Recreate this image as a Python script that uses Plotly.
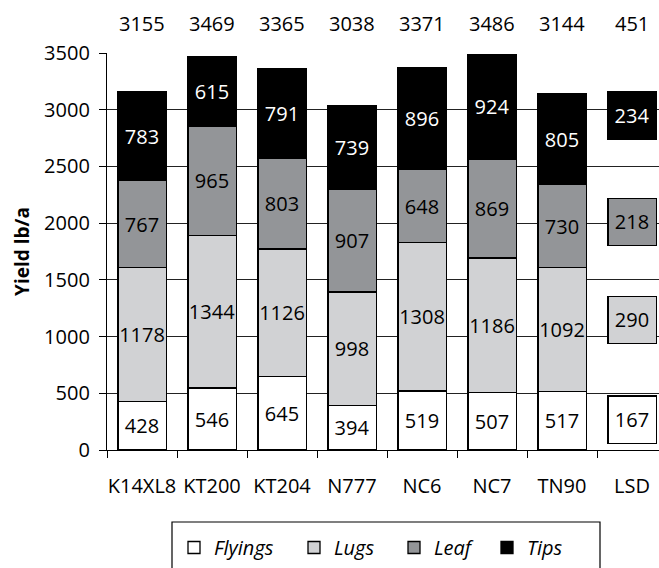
import plotly.graph_objects as go

categories = ["K14XL8", "KT200", "KT204", "N777", "NC6", "NC7", "TN90"]
flyings = [428, 546, 645, 394, 519, 507, 517]
lugs = [1178, 1344, 1126, 998, 1308, 1186, 1092]
leaf = [767, 965, 803, 907, 648, 869, 730]
tips = [783, 615, 791, 739, 896, 924, 805]
totals = [3155, 3469, 3365, 3038, 3371, 3486, 3144]

lsd_label = "LSD"
lsd_values = [167, 290, 218, 234]      # Flyings, Lugs, Leaf, Tips
lsd_total = 451
lsd_low = [60, 940, 1805, 2740]        # where each LSD box sits on the y axis
lsd_high = [475, 1355, 2220, 3155]

series = [
    ("Flyings", flyings, "#ffffff", "#000000"),
    ("Lugs", lugs, "#d1d2d4", "#000000"),
    ("Leaf", leaf, "#939598", "#000000"),
    ("Tips", tips, "#000000", "#ffffff"),
]
legend_widths = [75, 55, 48, 45]

FONT = "Open Sans"
FS = 20
W, H = 659, 568
L, T = 107, 53
B = H - 450
plot_w = W - L
plot_h = H - T - B

fig = go.Figure()
for i, (name, vals, color, tcolor) in enumerate(series):
    fig.add_trace(go.Bar(
        x=categories, y=vals, name=name,
        marker=dict(color=color, line=dict(color="#000000", width=1.3)),
        width=0.69,
        text=[str(v) for v in vals], textposition="inside", textangle=0,
        insidetextanchor="middle", constraintext="none",
        textfont=dict(family=FONT, size=FS, color=tcolor),
        legendwidth=legend_widths[i],
        hoverinfo="x+y+name",
    ))

for i, (name, vals, color, tcolor) in enumerate(series):
    fig.add_trace(go.Bar(
        x=[lsd_label], y=[lsd_high[i] - lsd_low[i]], base=[lsd_low[i]],
        name=name + " LSD", showlegend=False,
        marker=dict(color=color, line=dict(color="#000000", width=1.3)),
        width=0.69,
        text=[str(lsd_values[i])], textposition="inside", textangle=0,
        insidetextanchor="middle", constraintext="none",
        textfont=dict(family=FONT, size=FS, color=tcolor),
    ))

all_cats = categories + [lsd_label]
all_totals = totals + [lsd_total]
annotations = []
for c, t in zip(all_cats, all_totals):
    annotations.append(dict(
        x=c, y=(T + plot_h - 23) / plot_h, xref="x", yref="paper",
        text=str(t), showarrow=False,
        font=dict(family=FONT, size=FS, color="#000000"),
        xanchor="center", yanchor="middle",
    ))

shapes = [dict(
    type="rect", xref="paper", yref="paper",
    x0=(172 - L) / plot_w, x1=(600 - L) / plot_w,
    y0=(T + plot_h - 522) / plot_h, y1=(T + plot_h - 600) / plot_h,
    line=dict(color="#000000", width=1.2), fillcolor="rgba(0,0,0,0)",
)]

fig.update_layout(
    width=W, height=H,
    barmode="stack",
    plot_bgcolor="#ffffff", paper_bgcolor="#ffffff",
    margin=dict(l=L, r=0, t=T, b=B, pad=0),
    font=dict(family=FONT, size=FS, color="#000000"),
    showlegend=True,
    legend=dict(
        orientation="h", xref="container", yref="container",
        x=174 / W, xanchor="left", y=1 - 528 / H, yanchor="top",
        font=dict(family=FONT, size=FS, color="#000000", style="italic"),
        bgcolor="rgba(0,0,0,0)", borderwidth=0,
        traceorder="normal",
    ),
    annotations=annotations,
    shapes=shapes,
    xaxis=dict(
        type="category", categoryorder="array", categoryarray=all_cats,
        range=[-0.5, -0.5 + plot_w / 70],
        showgrid=False, showline=True, linecolor="#000000", linewidth=1.3,
        ticks="outside", tickson="boundaries", ticklen=7, tickcolor="#000000",
        tickwidth=1.3, tickangle=0, ticklabelstandoff=18,
        tickfont=dict(family=FONT, size=FS, color="#000000"),
        fixedrange=True,
    ),
    yaxis=dict(
        range=[0, 3500], tickvals=[0, 500, 1000, 1500, 2000, 2500, 3000, 3500],
        showgrid=True, gridcolor="#222222", gridwidth=1.1,
        showline=True, linecolor="#000000", linewidth=1.3,
        ticks="outside", ticklen=7, tickcolor="#000000", tickwidth=1.3,
        zeroline=False, ticklabelstandoff=5,
        tickfont=dict(family=FONT, size=FS, color="#000000"),
        title=dict(text="<b>Yield lb/a</b>",
                   font=dict(family=FONT, size=19, color="#000000"),
                   standoff=9),
        fixedrange=True,
    ),
)

fig.write_html(
    "out.html",
    config={"displayModeBar": False},
    post_script="document.body.style.margin='0';"
                "document.body.style.overflow='hidden';",
)
